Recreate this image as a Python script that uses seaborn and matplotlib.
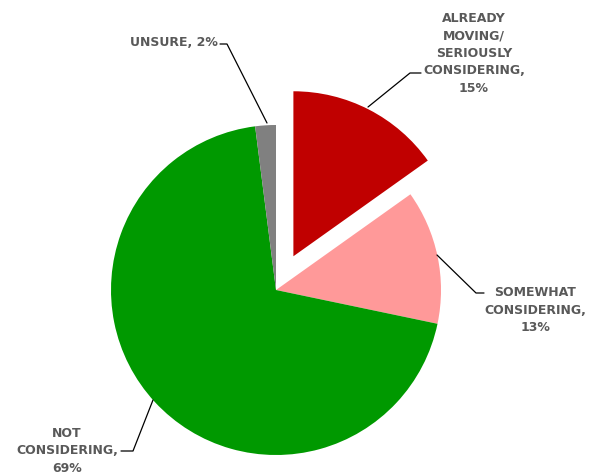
import matplotlib
matplotlib.use("Agg")
import matplotlib.pyplot as plt
import seaborn as sns

sns.set_theme(style="white")
plt.rcParams['font.family'] = ['DejaVu Sans']

categories = ["ALREADY\nMOVING/\nSERIOUSLY\nCONSIDERING,\n15%",
              "SOMEWHAT\nCONSIDERING,\n13%",
              "NOT\nCONSIDERING,\n69%",
              "UNSURE, 2%"]
values = [15, 13, 69, 2]
colors = ["#C00000", "#FF9999", "#009900", "#808080"]
explode = [0.23, 0, 0, 0]

W, H = 593, 474
CX, CY, R = 276, 290, 165

fig = plt.figure(figsize=(W / 100, H / 100), dpi=100)
ax = fig.add_axes([0, 0, 1, 1])

ax.pie(values, colors=colors, explode=explode, startangle=90,
       counterclock=False, radius=1, center=(0, 0),
       wedgeprops=dict(linewidth=0))

def P(px, py):
    return ((px - CX) / R, (CY - py) / R)

ax.set_xlim(-CX / R, (W - CX) / R)
ax.set_ylim(-(H - CY) / R, CY / R)
ax.set_aspect("equal")
ax.axis("off")

tcolor = "#595959"
fs = 9

# labels: (text, px, py, ha)
labels = [
    (categories[0], 474, 53, "center"),
    (categories[1], 535, 310, "center"),
    (categories[2], 67, 451, "center"),
    (categories[3], 218, 43, "right"),
]
for txt, px, py, ha in labels:
    x, y = P(px, py)
    ax.text(x, y, txt, ha=ha, va="center", fontsize=fs, fontweight="bold",
            color=tcolor, linespacing=1.45, multialignment="center")

leaders = [
    [(368, 107), (410, 73), (421, 73)],
    [(437, 255), (476, 293), (484, 293)],
    [(153, 400), (133, 451), (121, 451)],
    [(267, 123), (227, 44), (220, 44)],
]
for pts in leaders:
    xs, ys = zip(*[P(a, b) for a, b in pts])
    ax.plot(xs, ys, color="black", linewidth=0.9)

fig.savefig("out.png", dpi=100)
